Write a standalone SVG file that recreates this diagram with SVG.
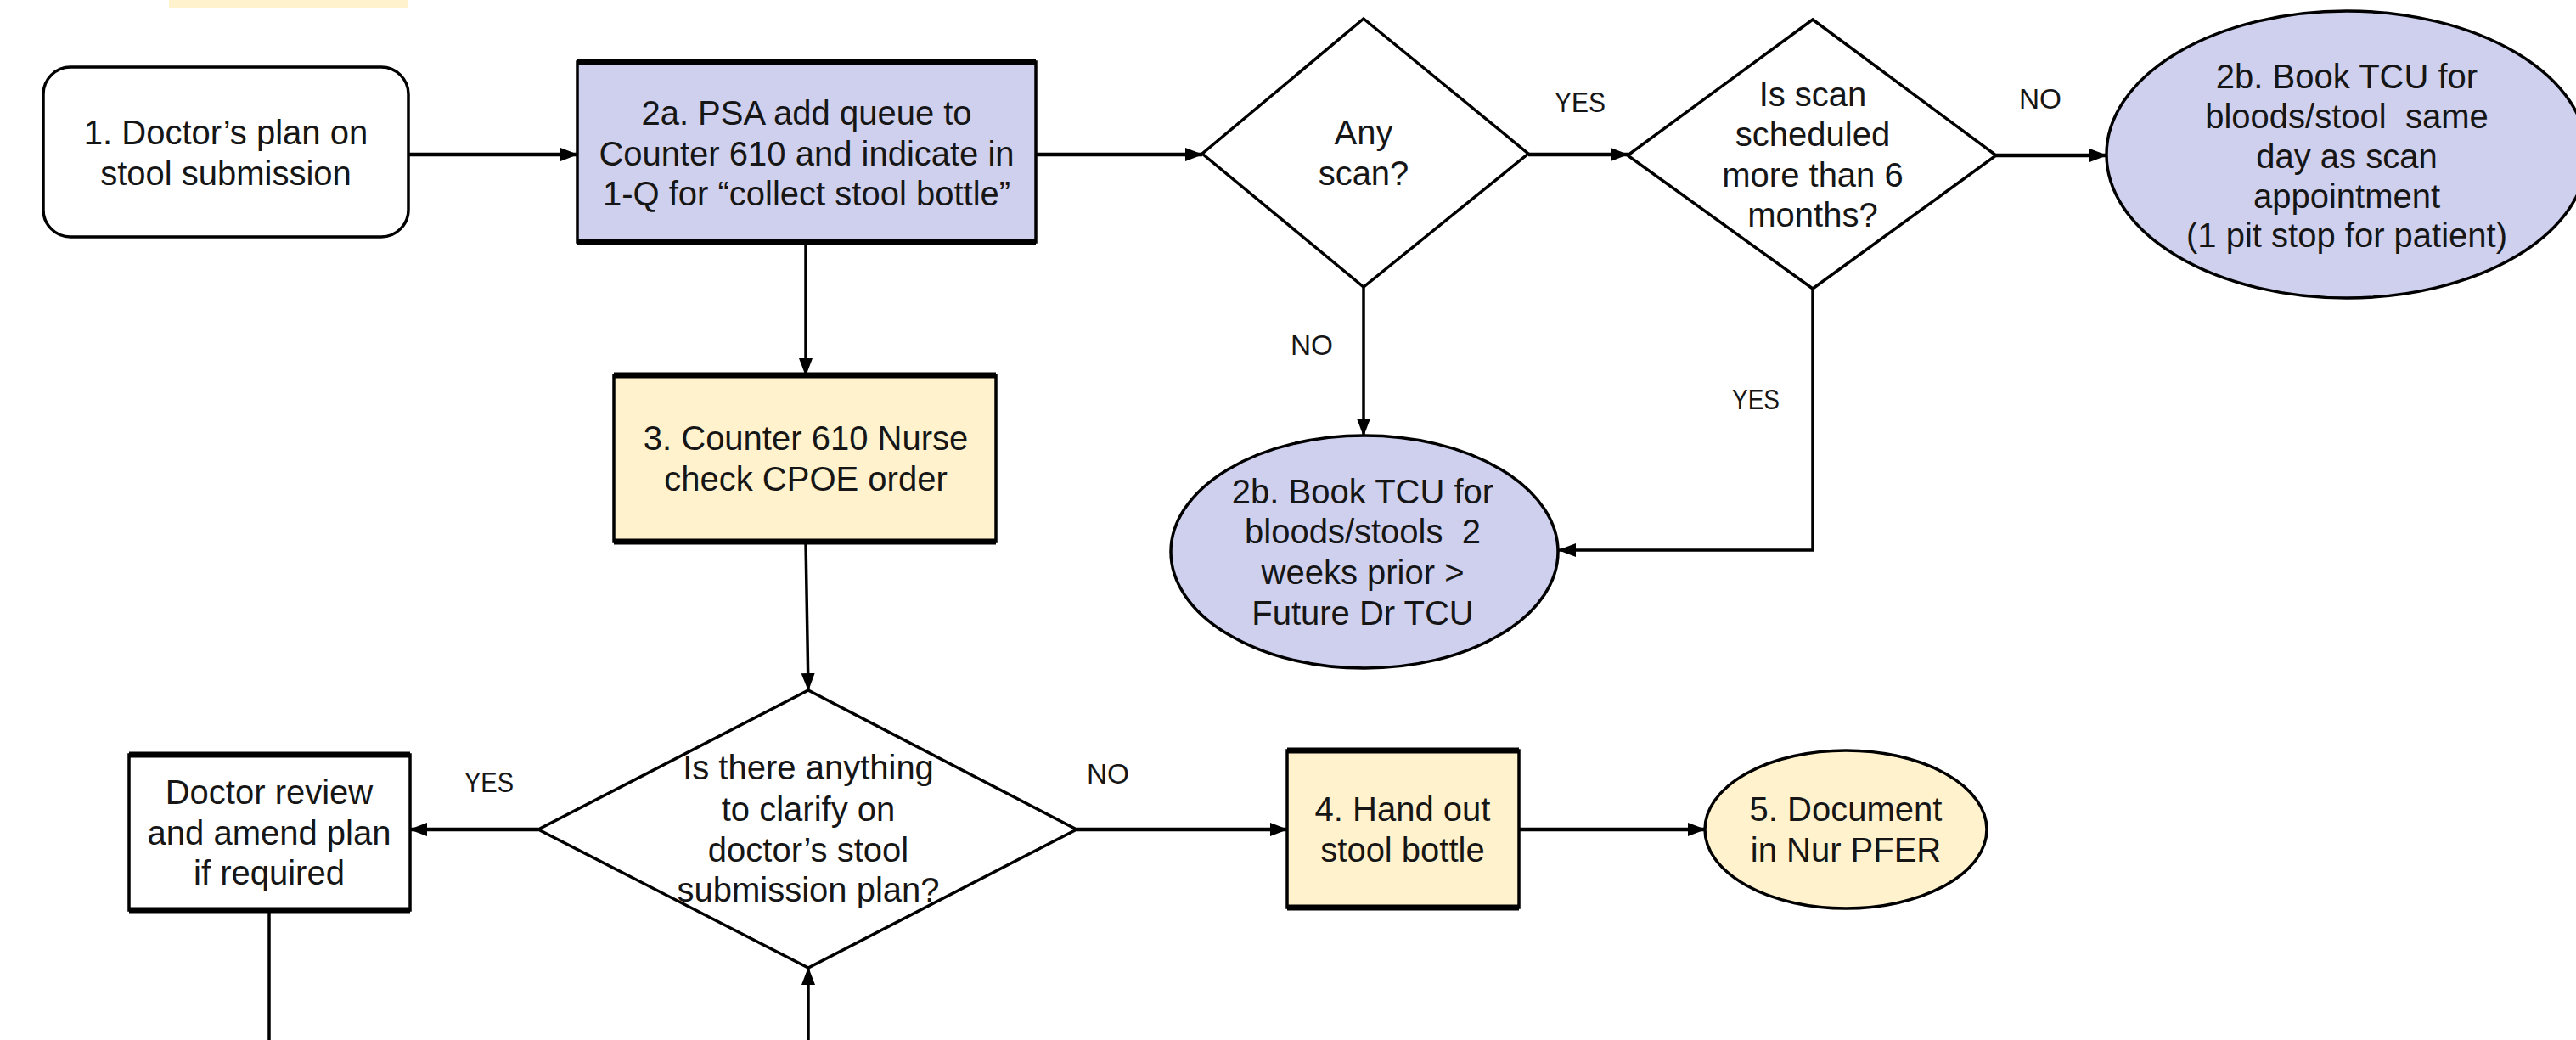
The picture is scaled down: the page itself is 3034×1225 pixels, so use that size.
<svg xmlns="http://www.w3.org/2000/svg" width="3034" height="1225" viewBox="0 0 3034 1225">
<style>
text{font-family:"Liberation Sans",Arial,sans-serif;font-size:40px;fill:#161616;text-anchor:middle}
.lbl{font-size:34px}
.box{stroke:#000;stroke-width:3.5}
.band{stroke:#000;stroke-width:7}
.lav{fill:#cfd0ee}
.yel{fill:#fff2cc}
.wht{fill:#fff}
.con{fill:none;stroke:#000;stroke-width:3.5}
.h{stroke-width:4.5}
</style>
<defs>
<marker id="ah" markerUnits="userSpaceOnUse" markerWidth="22" markerHeight="16" refX="20" refY="8" orient="auto">
<path d="M0,0 L21,8 L0,16 z" fill="#000"/>
</marker>
</defs>
<rect x="199" y="-2" width="281" height="12" fill="#fff2cc"/>
<g id="connectors">
<path class="con h" d="M481,182 H680" marker-end="url(#ah)"/>
<path class="con h" d="M1220,182 H1416" marker-end="url(#ah)"/>
<path class="con h" d="M1800,182 H1917" marker-end="url(#ah)"/>
<path class="con h" d="M2351,183 H2481" marker-end="url(#ah)"/>
<path class="con" d="M1606,338 V513" marker-end="url(#ah)"/>
<path class="con" d="M2135,340 V648 H1836" marker-end="url(#ah)"/>
<path class="con" d="M949,285 V442" marker-end="url(#ah)"/>
<path class="con" d="M949,638 L952,813" marker-end="url(#ah)"/>
<path class="con h" d="M634,977 H483" marker-end="url(#ah)"/>
<path class="con h" d="M1268,977 H1516" marker-end="url(#ah)"/>
<path class="con h" d="M1789,977 H2008" marker-end="url(#ah)"/>
<path class="con" d="M317,1072 V1225"/>
<path class="con" d="M952,1225 V1140" marker-end="url(#ah)"/>
<text class="lbl" x="1861" y="132" textLength="60" lengthAdjust="spacingAndGlyphs">YES</text>
<text class="lbl" x="2403" y="128" textLength="50" lengthAdjust="spacingAndGlyphs">NO</text>
<text class="lbl" x="1545" y="418" textLength="50" lengthAdjust="spacingAndGlyphs">NO</text>
<text class="lbl" x="2068" y="482" textLength="56" lengthAdjust="spacingAndGlyphs">YES</text>
<text class="lbl" x="576" y="933" textLength="58" lengthAdjust="spacingAndGlyphs">YES</text>
<text class="lbl" x="1305" y="923" textLength="50" lengthAdjust="spacingAndGlyphs">NO</text>
</g>
<g id="n1">
<rect class="box wht" x="51" y="79" width="430" height="200" rx="32"/>
<text x="266" y="170">1. Doctor’s plan on</text>
<text x="266" y="218">stool submission</text>
</g>
<g id="n2a">
<rect class="box lav" x="680" y="73" width="540" height="212"/>
<path class="band" d="M680,73 H1220 M680,285 H1220"/>
<text x="950" y="147">2a. PSA add queue to</text>
<text x="950" y="195">Counter 610 and indicate in</text>
<text x="950" y="242">1-Q for “collect stool bottle”</text>
</g>
<g id="d1">
<path class="box wht" d="M1606,22 L1800,181 L1606,338 L1416,181 z"/>
<text x="1606" y="170">Any</text>
<text x="1606" y="218">scan?</text>
</g>
<g id="d2">
<path class="box wht" d="M2135,23 L2351,183 L2135,340 L1917,183 z"/>
<text x="2135" y="125">Is scan</text>
<text x="2135" y="172">scheduled</text>
<text x="2135" y="220">more than 6</text>
<text x="2135" y="267">months?</text>
</g>
<g id="n2b-same">
<ellipse class="box lav" cx="2764" cy="182" rx="283" ry="169"/>
<text x="2764" y="104">2b. Book TCU for</text>
<text x="2764" y="151">bloods/stool&#160; same</text>
<text x="2764" y="198">day as scan</text>
<text x="2764" y="245">appointment</text>
<text x="2764" y="291">(1 pit stop for patient)</text>
</g>
<g id="n2b-prior">
<ellipse class="box lav" cx="1607" cy="650" rx="228" ry="137"/>
<text x="1605" y="593">2b. Book TCU for</text>
<text x="1605" y="640">bloods/stools&#160; 2</text>
<text x="1605" y="688">weeks prior &gt;</text>
<text x="1605" y="736">Future Dr TCU</text>
</g>
<g id="n3">
<rect class="box yel" x="723" y="442" width="450" height="196"/>
<path class="band" d="M723,442 H1173 M723,638 H1173"/>
<text x="949" y="530">3. Counter 610 Nurse</text>
<text x="949" y="578">check CPOE order</text>
</g>
<g id="d3">
<path class="box wht" d="M952,813 L1268,977 L952,1140 L634,977 z"/>
<text x="952" y="918">Is there anything</text>
<text x="952" y="967">to clarify on</text>
<text x="952" y="1015">doctor’s stool</text>
<text x="952" y="1062">submission plan?</text>
</g>
<g id="nreview">
<rect class="box wht" x="152" y="889" width="331" height="183"/>
<path class="band" d="M152,889 H483 M152,1072 H483"/>
<text x="317" y="947">Doctor review</text>
<text x="317" y="995">and amend plan</text>
<text x="317" y="1042">if required</text>
</g>
<g id="n4">
<rect class="box yel" x="1516" y="884" width="273" height="185"/>
<path class="band" d="M1516,884 H1789 M1516,1069 H1789"/>
<text x="1652" y="967">4. Hand out</text>
<text x="1652" y="1015">stool bottle</text>
</g>
<g id="n5">
<ellipse class="box yel" cx="2174" cy="977" rx="166" ry="93"/>
<text x="2174" y="967">5. Document</text>
<text x="2174" y="1015">in Nur PFER</text>
</g>
</svg>
